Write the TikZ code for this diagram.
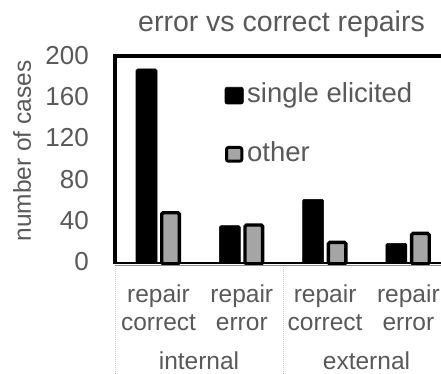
\documentclass[tikz,border=0pt]{standalone}
\usepackage{fontspec}
\setmainfont{Liberation Sans}
\definecolor{txt}{HTML}{595959}
\definecolor{barfill}{HTML}{A5A5A5}
\definecolor{sepline}{HTML}{CFCFCF}
\definecolor{axisgray}{HTML}{8C8C8C}
\newcommand\sz[1]{\fontsize{#1}{#1}\selectfont}
\begin{document}
\begin{tikzpicture}[x=1pt,y=-1pt,
  lbl/.style={text=txt,inner sep=0pt,font=\sz{24.5}},
  ticklbl/.style={text=txt,inner sep=0pt,anchor=east,font=\sz{26}},
  legtxt/.style={text=txt,inner sep=0pt,anchor=base west,font=\sz{27.5}},
  blackbar/.style={fill=black,draw=black,line width=0.6pt,rounded corners=1.5pt},
  graybar/.style={fill=barfill,draw=black,line width=3.4pt,rounded corners=1.5pt},
  frameline/.style={draw=black,line width=3.5pt},
  catsep/.style={draw=sepline,line width=0.9pt,dash pattern=on 1.2pt off 0.8pt}]
\useasboundingbox (0,0) rectangle (441,374);
\clip (0,0) rectangle (441,374);
\fill[white] (0,0) rectangle (441,374);

% title and axis title
\node[lbl,anchor=base,font=\sz{28.5}] (title) at (281.5,32) {error vs correct repairs};
\node[lbl,rotate=90] (ytitle) at (22,151) {number of cases};

% value axis tick labels
\foreach \v/\name in {0/t0,40/t40,80/t80,120/t120,160/t160,200/t200}
  \node[ticklbl] (\name) at (89,{263-1.03*\v-1.5}) {\v};

% category separators below the axis
\foreach \x in {115,283,450}
  \draw[catsep] (\x,265) -- (\x,374);

% bars: centre, top of black bar, top of grey bar
\foreach \c/\bt/\gt in {158.5/69/211,241.8/225.7/223.3,325.1/199.3/240.7,408.4/243.3/231.7}{
  \path[blackbar] ({\c-22.5},263) rectangle ({\c-1.5},\bt);
  \path[graybar] ({\c+3.2},264) rectangle ({\c+20.8},{\gt+1.7});
}

% plot frame and axis
\draw[frameline] (115,263) -- (115,56) -- (460,56);
\draw[black,line width=2.4pt] (113.3,263) -- (460,263);
\draw[axisgray,line width=1.2pt] (115,265.2) -- (460,265.2);

% legend
\path[blackbar,rounded corners=2pt] (225,87.3) rectangle (243.3,104);
\node[legtxt] (leg1) at (247,103) {single elicited};
\path[graybar,line width=3pt,rounded corners=2pt] (226.5,147.5) rectangle (241.8,161.2);
\node[legtxt] (leg2) at (247,161.5) {other};

% category labels
\foreach \c/\w/\n in {158.5/correct/a,241.8/error/b,325.1/correct/c,408.4/error/d}{
  \node[lbl,anchor=base] (r\n) at (\c,302.7) {repair};
  \node[lbl,anchor=base] (w\n) at (\c,330) {\w};
}
\node[lbl,anchor=base] (internal) at (199,369.5) {internal};
\node[lbl,anchor=base] (external) at (366.5,369.5) {external};
\end{tikzpicture}
\end{document}
